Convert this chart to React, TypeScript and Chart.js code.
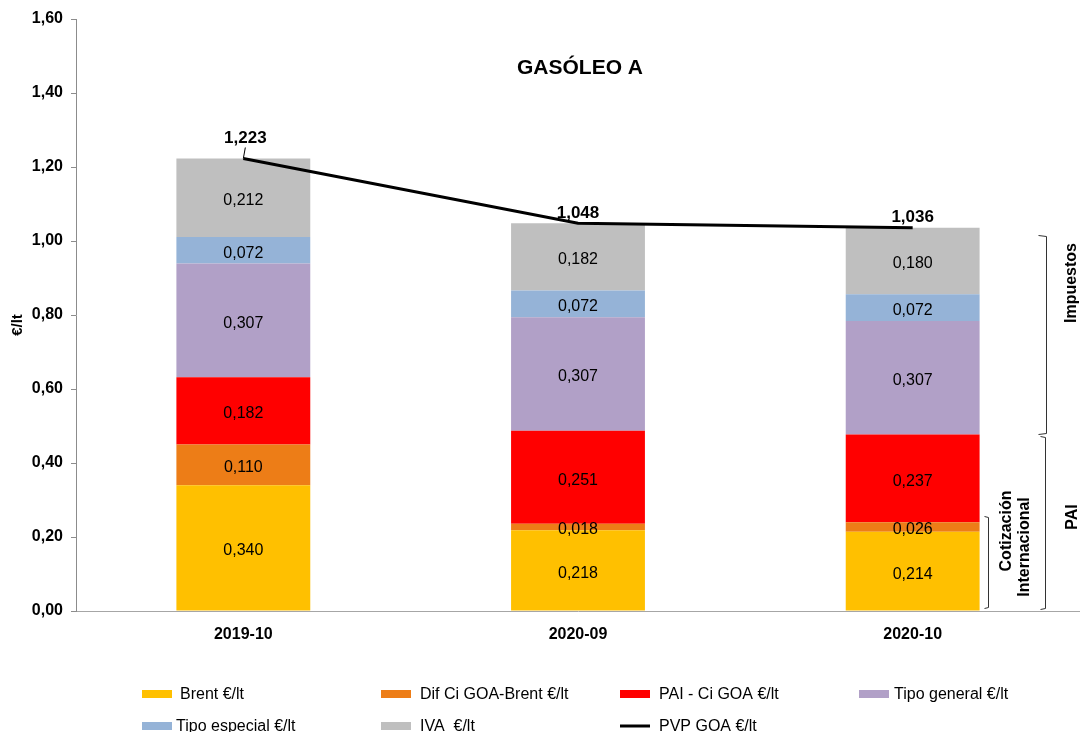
import React, { useEffect, useRef } from "react";
import { Chart, registerables } from "chart.js";

Chart.register(...registerables);

const FONT = "'Liberation Sans', Arial, sans-serif";

const categories = ["2019-10", "2020-09", "2020-10"];
const brent = [0.34, 0.218, 0.214];
const difCiGoaBrent = [0.11, 0.018, 0.026];
const paiCiGoa = [0.182, 0.251, 0.237];
const tipoGeneral = [0.307, 0.307, 0.307];
const tipoEspecial = [0.072, 0.072, 0.072];
const iva = [0.212, 0.182, 0.18];
const pvpGoa = [1.223, 1.048, 1.036];

const seriesLabels = [
  "Brent €/lt",
  "Dif Ci GOA-Brent €/lt",
  "PAI - Ci GOA €/lt",
  "Tipo general €/lt",
  "Tipo especial €/lt",
  "IVA  €/lt",
];
const lineLabel = "PVP GOA €/lt";
const seriesColors = ["#FFC000", "#ED7D17", "#FF0000", "#B1A0C7", "#95B3D7", "#BFBFBF"];

const yMin = 0;
const yMax = 1.6;
const yStep = 0.2;

const chartTitle = "GASÓLEO A";
const yTitle = "€/lt";

// bracket annotations (value ranges on the y axis)
const braceRanges = [
  { text: ["Impuestos"], from: 0.478, to: 1.016 },
  { text: ["PAI"], from: 0.005, to: 0.473 },
  { text: ["Cotización", "Internacional"], from: 0.008, to: 0.257 },
];

const fmt = (v: number, d: number) => v.toFixed(d).replace(".", ",");

export default function App() {
  const ref = useRef<HTMLCanvasElement | null>(null);

  useEffect(() => {
    const canvas = ref.current;
    if (!canvas) return;
    document.body.style.margin = "0";

    const seriesData = [brent, difCiGoaBrent, paiCiGoa, tipoGeneral, tipoEspecial, iva];

    const braceLayout = [
      { x: 1046, tick: 8, textX: [1072], textY: 283 },
      { x: 1045, tick: 5, textX: [1073], textY: 517 },
      { x: 988, tick: 4, textX: [1007, 1025], textY: [531, 547] },
    ];

    const legendLayout = [
      { box: 142, text: 180, y: 695 },
      { box: 381, text: 420, y: 695 },
      { box: 620, text: 659, y: 695 },
      { box: 859, text: 894, y: 695 },
      { box: 142, text: 176, y: 727 },
      { box: 381, text: 420, y: 727 },
      { box: 620, text: 659, y: 727 },
    ];

    const overlay = {
      id: "overlay",
      afterDatasetsDraw(chart: any) {
        const ctx: CanvasRenderingContext2D = chart.ctx;
        const ys = chart.scales.y;
        ctx.save();
        // bar value labels
        ctx.fillStyle = "#000";
        ctx.textAlign = "center";
        ctx.textBaseline = "middle";
        ctx.font = `16px ${FONT}`;
        chart.data.datasets.forEach((ds: any, i: number) => {
          if (ds.type !== "bar") return;
          const meta = chart.getDatasetMeta(i);
          meta.data.forEach((el: any, j: number) => {
            const p = el.getProps(["x", "y", "base"], true);
            ctx.fillText(fmt(ds.data[j], 3), p.x, (p.y + p.base) / 2 + 3);
          });
        });
        // PVP labels
        const lineIdx = chart.data.datasets.findIndex((d: any) => d.type === "line");
        const lmeta = chart.getDatasetMeta(lineIdx);
        ctx.font = `bold 17px ${FONT}`;
        lmeta.data.forEach((el: any, j: number) => {
          const p = el.getProps(["x", "y"], true);
          if (j === 0) {
            ctx.strokeStyle = "#000";
            ctx.lineWidth = 1;
            ctx.beginPath();
            ctx.moveTo(p.x + 2, p.y - 11);
            ctx.lineTo(p.x, p.y);
            ctx.stroke();
            ctx.fillText(fmt(pvpGoa[j], 3), p.x + 2, p.y - 20);
          } else {
            ctx.fillText(fmt(pvpGoa[j], 3), p.x, p.y - 10);
          }
        });
        // title
        ctx.font = `bold 21px ${FONT}`;
        ctx.fillText(chartTitle, 580, 68);
        // y axis title
        ctx.save();
        ctx.translate(18, 325);
        ctx.rotate(-Math.PI / 2);
        ctx.font = `bold 15px ${FONT}`;
        ctx.fillText(yTitle, 0, 0);
        ctx.restore();
        // braces
        ctx.strokeStyle = "#333";
        ctx.lineWidth = 1;
        braceRanges.forEach((b, i) => {
          const L: any = braceLayout[i];
          const yTop = Math.round(ys.getPixelForValue(b.to)) + 0.5;
          const yBot = Math.round(ys.getPixelForValue(b.from)) + 0.5;
          const x = L.x + 0.5;
          ctx.beginPath();
          ctx.moveTo(x - L.tick, yTop);
          ctx.lineTo(x, yTop + 1);
          ctx.lineTo(x, yBot - 1);
          ctx.lineTo(x - L.tick, yBot);
          ctx.stroke();
          ctx.font = `bold 16px ${FONT}`;
          b.text.forEach((t, k) => {
            ctx.save();
            const ty = Array.isArray(L.textY) ? L.textY[k] : L.textY;
            ctx.translate(L.textX[k], ty);
            ctx.rotate(-Math.PI / 2);
            ctx.fillText(t, 0, 0);
            ctx.restore();
          });
        });
        // legend
        ctx.font = `16px ${FONT}`;
        ctx.textAlign = "left";
        const names = [...seriesLabels, lineLabel];
        names.forEach((n, i) => {
          const L = legendLayout[i];
          if (i < seriesLabels.length) {
            ctx.fillStyle = seriesColors[i];
            ctx.fillRect(L.box, L.y - 5, 30, 8);
          } else {
            ctx.strokeStyle = "#000";
            ctx.lineWidth = 3;
            ctx.beginPath();
            ctx.moveTo(L.box, L.y - 1);
            ctx.lineTo(L.box + 30, L.y - 1);
            ctx.stroke();
          }
          ctx.fillStyle = "#000";
          ctx.fillText(n, L.text, L.y);
        });
        ctx.restore();
      },
    };

    const datasets: any[] = seriesData.map((d, i) => ({
      type: "bar",
      label: seriesLabels[i],
      data: d,
      backgroundColor: seriesColors[i],
      borderWidth: 0,
      barPercentage: 0.4,
      categoryPercentage: 1,
      stack: "goa",
      order: 1,
    }));
    datasets.push({
      type: "line",
      label: lineLabel,
      data: pvpGoa,
      borderColor: "#000",
      borderWidth: 3,
      pointRadius: 0,
      fill: false,
      tension: 0,
      stack: "pvp",
      order: 0,
    });

    const chart = new Chart(canvas, {
      type: "bar",
      data: { labels: categories, datasets },
      options: {
        responsive: false,
        animation: false,
        layout: { padding: { top: 19, right: 0, left: 0, bottom: 0 } },
        plugins: {
          legend: { display: false },
          title: { display: false },
          tooltip: { enabled: false },
        },
        scales: {
          x: {
            stacked: true,
            grid: { display: false },
            border: { display: true, color: "#A6A6A6", width: 1 },
            ticks: {
              color: "#000",
              font: { family: FONT, size: 16, weight: "bold" },
              padding: 6,
            },
            afterFit: (s: any) => {
              s.height = 121;
            },
          },
          y: {
            stacked: true,
            min: yMin,
            max: yMax,
            grid: {
              display: true,
              drawOnChartArea: false,
              drawTicks: true,
              tickLength: 5,
              color: "#8C8C8C",
            },
            border: { display: true, color: "#8C8C8C", width: 1 },
            ticks: {
              stepSize: yStep,
              color: "#000",
              padding: 8,
              font: { family: FONT, size: 16, weight: "bold" },
              callback: (v: any) => fmt(Number(v), 2),
            },
            afterFit: (s: any) => {
              s.width = 76;
            },
          },
        },
      } as any,
      plugins: [overlay],
    });

    return () => chart.destroy();
  }, []);

  return (
    <div style={{ position: "fixed", left: 0, top: 0, width: 1080, height: 732, background: "#fff" }}>
      <canvas ref={ref} width={1080} height={732} style={{ width: 1080, height: 732, display: "block" }} />
    </div>
  );
}
